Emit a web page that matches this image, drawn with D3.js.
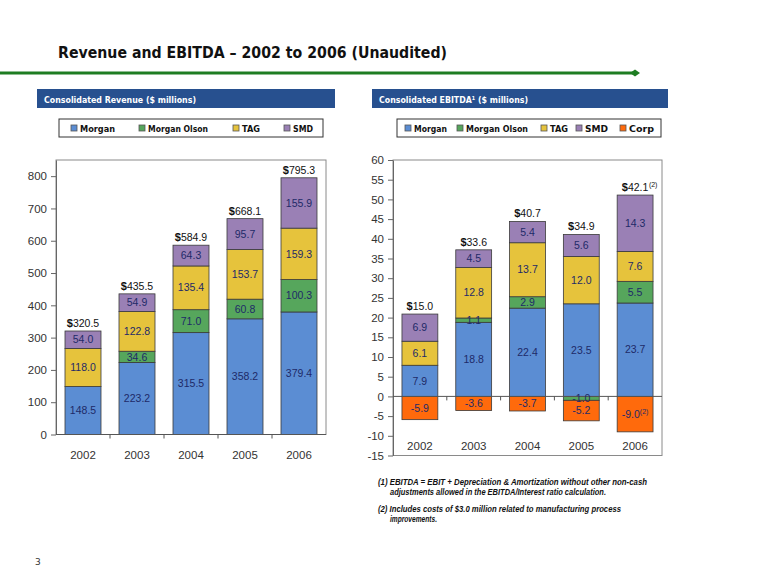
<!DOCTYPE html>
<html>
<head>
<meta charset="utf-8">
<script src="https://cdn.jsdelivr.net/npm/d3@7"></script>
<style>
  html, body { margin: 0; padding: 0; background: #fff; }
  svg { display: block; }
</style>
</head>
<body>
<script>
// ---------- DATA ----------
const years = ["2002", "2003", "2004", "2005", "2006"];
const seriesNames = ["Morgan", "Morgan Olson", "TAG", "SMD", "Corp"];

const revMorgan      = [148.5, 223.2, 315.5, 358.2, 379.4];
const revMorganOlson = [0, 34.6, 71.0, 60.8, 100.3];
const revTAG         = [118.0, 122.8, 135.4, 153.7, 159.3];
const revSMD         = [54.0, 54.9, 64.3, 95.7, 155.9];
const revTotals      = ["320.5", "435.5", "584.9", "668.1", "795.3"];
const revTicks       = [0, 100, 200, 300, 400, 500, 600, 700, 800];

const ebMorgan      = [7.9, 18.8, 22.4, 23.5, 23.7];
const ebMorganOlson = [0, 1.1, 2.9, -1.0, 5.5];
const ebTAG         = [6.1, 12.8, 13.7, 12.0, 7.6];
const ebSMD         = [6.9, 4.5, 5.4, 5.6, 14.3];
const ebCorp        = [-5.9, -3.6, -3.7, -5.2, -9.0];
const ebTotals      = ["15.0", "33.6", "40.7", "34.9", "42.1"];
const ebTotalNotes  = ["", "", "", "", "(2)"];
const ebCorpNotes   = ["", "", "", "", "(2)"];
const ebTicks       = [-15, -10, -5, 0, 5, 10, 15, 20, 25, 30, 35, 40, 45, 50, 55, 60];

const footnotes = [
  "(1) EBITDA = EBIT + Depreciation & Amortization without other non-cash",
  "adjustments allowed in the EBITDA/Interest ratio calculation.",
  "(2) Includes costs of $3.0 million related to manufacturing process",
  "improvements."
];

// ---------- STYLE ----------
const colors = {
  "Morgan": "#5B8DD3",
  "Morgan Olson": "#56A65C",
  "TAG": "#E6C33C",
  "SMD": "#9A80B5",
  "Corp": "#FF6A0C"
};
const labelColor = "#1E2A68";
const W = 757, H = 587;
const fmt1 = v => v.toFixed(1);

const svg = d3.select("body").append("svg")
  .attr("width", W).attr("height", H)
  .style("font-family", "'Liberation Sans', Arial, sans-serif");
svg.append("rect").attr("width", W).attr("height", H).attr("fill", "#fff");

// ---------- TITLE ----------
svg.append("text")
  .attr("x", 58).attr("y", 58)
  .attr("font-family", "'DejaVu Sans', Verdana, sans-serif")
  .attr("font-weight", "bold").attr("font-size", 15)
  .attr("textLength", 389).attr("lengthAdjust", "spacingAndGlyphs")
  .attr("fill", "#111")
  .text("Revenue and EBITDA – 2002 to 2006 (Unaudited)");

svg.append("line").attr("x1", 0).attr("x2", 633).attr("y1", 73).attr("y2", 73)
  .attr("stroke", "#1E7D22").attr("stroke-width", 3);
svg.append("path").attr("d", "M630,73 L635,69.5 L640,73 L635,76.5 Z").attr("fill", "#1E7D22");

// ---------- HEADERS ----------
function header(x, w, txt, tl) {
  svg.append("rect").attr("x", x).attr("y", 89).attr("width", w).attr("height", 19)
    .attr("fill", "#27508F");
  svg.append("text").attr("x", x + 7).attr("y", 102.5)
    .attr("font-family", "'DejaVu Sans', Verdana, sans-serif")
    .attr("font-weight", "bold").attr("font-size", 9.5).attr("fill", "#fff")
    .attr("textLength", tl).attr("lengthAdjust", "spacingAndGlyphs")
    .text(txt);
}
header(37, 298, "Consolidated Revenue ($ millions)", 152);
header(372, 296, "Consolidated EBITDA¹ ($ millions)", 149);

// ---------- LEGENDS ----------
function legend(x, w, items) {
  svg.append("rect").attr("x", x).attr("y", 119).attr("width", w).attr("height", 18)
    .attr("fill", "#fff").attr("stroke", "#333").attr("stroke-width", 1);
  items.forEach(it => {
    svg.append("rect").attr("x", it.sx).attr("y", 125).attr("width", 6).attr("height", 6)
      .attr("fill", colors[it.name]).attr("stroke", "#555").attr("stroke-width", 0.8);
    svg.append("text").attr("x", it.tx).attr("y", 131.5)
      .attr("font-family", "'DejaVu Sans', Verdana, sans-serif")
      .attr("font-weight", "bold").attr("font-size", 9.5).attr("fill", "#111")
      .attr("textLength", it.tl).attr("lengthAdjust", "spacingAndGlyphs")
      .text(it.name);
  });
}
legend(59, 264, [
  { name: "Morgan", sx: 71, tx: 80, tl: 35 },
  { name: "Morgan Olson", sx: 139, tx: 148, tl: 60 },
  { name: "TAG", sx: 233, tx: 242, tl: 18 },
  { name: "SMD", sx: 284, tx: 293, tl: 20 }
]);
legend(397, 264, [
  { name: "Morgan", sx: 405, tx: 414, tl: 33 },
  { name: "Morgan Olson", sx: 457, tx: 466, tl: 62 },
  { name: "TAG", sx: 541, tx: 550, tl: 18 },
  { name: "SMD", sx: 576, tx: 585, tl: 23 },
  { name: "Corp", sx: 620, tx: 629, tl: 25 }
]);

// ---------- GENERIC STACK CHART ----------
function drawChart(opt) {
  const g = svg.append("g");
  const x = d3.scaleBand().domain(years).range([opt.x0, opt.x1])
    .paddingInner(1 / 3).paddingOuter(1 / 6);
  const y = d3.scaleLinear().domain(opt.domain).range([opt.yBottom, opt.yTop]);

  // frame
  g.append("rect").attr("x", opt.x0).attr("y", opt.yTop)
    .attr("width", opt.x1 - opt.x0).attr("height", opt.yBottom - opt.yTop)
    .attr("fill", "none").attr("stroke", "#8a8a8a").attr("stroke-width", 1);

  // y axis
  const ya = g.append("g").attr("transform", `translate(${opt.x0},0)`)
    .call(d3.axisLeft(y).tickValues(opt.ticks).tickSize(5).tickSizeOuter(0).tickPadding(4)
      .tickFormat(d => String(d)));
  ya.select(".domain").attr("stroke", "#666");
  ya.selectAll(".tick line").attr("stroke", "#666");
  ya.selectAll(".tick text").attr("font-size", 11.5).attr("fill", "#333")
    .attr("font-family", "'Liberation Sans', Arial, sans-serif");

  // stacked data
  const rows = years.map((yr, i) => {
    const r = { year: yr };
    opt.keys.forEach((k, j) => r[k] = opt.values[j][i]);
    return r;
  });
  const stack = d3.stack().keys(opt.keys).offset(d3.stackOffsetDiverging)(rows);

  stack.forEach(s => {
    s.forEach((d, i) => {
      const v = d.data[s.key];
      if (v === 0) return;
      const top = y(Math.max(d[0], d[1])), bot = y(Math.min(d[0], d[1]));
      g.append("rect").attr("x", x(years[i])).attr("y", top)
        .attr("width", x.bandwidth()).attr("height", bot - top)
        .attr("fill", colors[s.key]).attr("stroke", "#3a3a3a").attr("stroke-width", 0.8);
    });
  });

  // zero axis with ticks at band boundaries
  const y0 = y(0);
  g.append("line").attr("x1", opt.x0).attr("x2", opt.x1).attr("y1", y0).attr("y2", y0)
    .attr("stroke", "#555").attr("stroke-width", 1);
  const step = x.step();
  for (let k = 1; k < years.length; k++) {
    const tx = opt.x0 + step * k;
    g.append("line").attr("x1", tx).attr("x2", tx).attr("y1", y0).attr("y2", y0 + 4)
      .attr("stroke", "#555");
  }

  // year labels
  years.forEach(yr => {
    g.append("text").attr("x", x(yr) + x.bandwidth() / 2).attr("y", opt.yearY)
      .attr("text-anchor", "middle").attr("font-size", 11.5).attr("fill", "#333")
      .text(yr);
  });

  // segment labels
  stack.forEach(s => {
    s.forEach((d, i) => {
      const v = d.data[s.key];
      if (v === 0) return;
      const cy = y((d[0] + d[1]) / 2);
      const cx = x(years[i]) + x.bandwidth() / 2;
      const note = (opt.notes && opt.notes[s.key]) ? opt.notes[s.key][i] : "";
      const t = g.append("text").attr("x", cx).attr("y", cy).attr("dy", "0.35em")
        .attr("text-anchor", "middle").attr("font-size", 10.5).attr("fill", labelColor)
        .text(fmt1(v));
      if (note) {
        t.append("tspan").attr("font-size", 7).attr("dy", "-0.6em").text(note);
      }
    });
  });

  // total labels
  years.forEach((yr, i) => {
    let top = 0;
    stack.forEach(s => { top = Math.max(top, s[i][1]); });
    const cx = x(yr) + x.bandwidth() / 2;
    const t = g.append("text").attr("x", cx).attr("y", y(top) - 4)
      .attr("text-anchor", "middle").attr("font-size", 10.5).attr("fill", "#111");
    t.append("tspan").attr("font-weight", "bold").attr("font-size", 11).text("$");
    t.append("tspan").text(opt.totals[i]);
    const note = opt.totalNotes ? opt.totalNotes[i] : "";
    if (note) {
      const w = t.node().getComputedTextLength();
      g.append("text").attr("x", cx + w / 2 + 0.5).attr("y", y(top) - 8)
        .attr("font-size", 7).attr("fill", "#111").text(note);
    }
  });
}

drawChart({
  x0: 56, x1: 326, yTop: 160, yBottom: 434.5,
  domain: [0, 850], ticks: revTicks,
  keys: ["Morgan", "Morgan Olson", "TAG", "SMD"],
  values: [revMorgan, revMorganOlson, revTAG, revSMD],
  totals: revTotals, yearY: 459
});

drawChart({
  x0: 393, x1: 662, yTop: 160, yBottom: 455.5,
  domain: [-15, 60], ticks: ebTicks,
  keys: ["Morgan", "Morgan Olson", "TAG", "SMD", "Corp"],
  values: [ebMorgan, ebMorganOlson, ebTAG, ebSMD, ebCorp],
  notes: { "Corp": ebCorpNotes },
  totals: ebTotals, totalNotes: ebTotalNotes, yearY: 450
});

// ---------- FOOTNOTES ----------
const fnPos = [
  { x: 378, y: 485, tl: 269 },
  { x: 390, y: 495, tl: 216 },
  { x: 378, y: 512, tl: 243 },
  { x: 390, y: 522, tl: 47 }
];
footnotes.forEach((f, i) => {
  svg.append("text").attr("x", fnPos[i].x).attr("y", fnPos[i].y)
    .attr("font-size", 8.5).attr("font-weight", "bold").attr("font-style", "italic")
    .attr("fill", "#111")
    .attr("textLength", fnPos[i].tl).attr("lengthAdjust", "spacingAndGlyphs")
    .text(f);
});

// page number
svg.append("text").attr("x", 35).attr("y", 565).attr("font-size", 9)
  .attr("font-family", "'DejaVu Sans', Verdana, sans-serif").attr("fill", "#333").text("3");
</script>
</body>
</html>
